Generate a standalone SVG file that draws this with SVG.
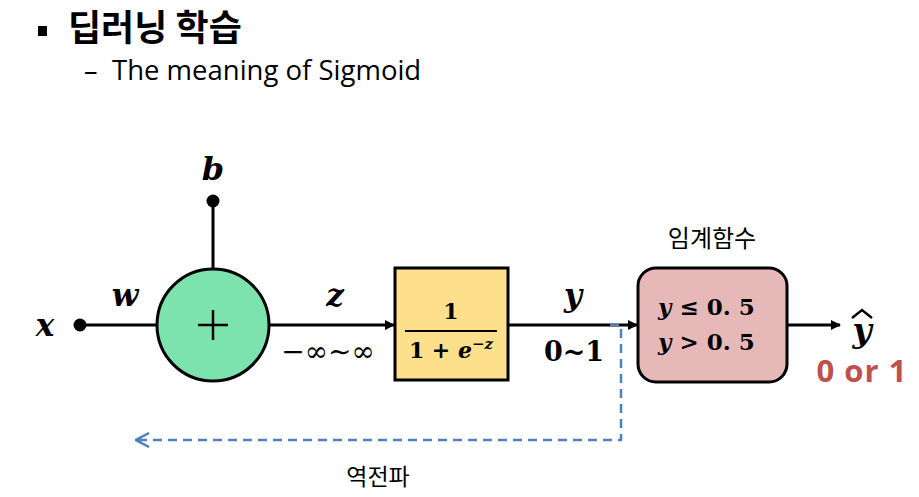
<svg xmlns="http://www.w3.org/2000/svg" width="919" height="497" viewBox="0 0 919 497">
<style>
.ko{font-family:"Noto Sans CJK KR","Noto Sans",sans-serif}
.en{font-family:"Open Sans","Noto Sans",sans-serif}
.m{font-family:"DejaVu Serif","Liberation Serif",serif;font-weight:bold;font-style:italic;fill:#000}
.mn{font-family:"DejaVu Serif","Liberation Serif",serif;font-weight:bold;font-style:normal;fill:#000}
.ln{stroke:#000;stroke-width:3;fill:none}
</style>
<defs>
<marker id="ar" markerWidth="10" markerHeight="10" refX="9" refY="5" orient="auto" markerUnits="userSpaceOnUse" viewBox="0 0 10 10">
<path d="M0,0 L10,5 L0,10 z" fill="#000"/>
</marker>
<marker id="ob" markerWidth="16" markerHeight="16" refX="15" refY="8" orient="auto" markerUnits="userSpaceOnUse" viewBox="0 0 16 16">
<path d="M2,1 L15,8 L2,15" fill="none" stroke="#4f81bd" stroke-width="2.5"/>
</marker>
</defs>
<rect width="919" height="497" fill="#fff"/>
<g id="title">
<rect x="38" y="26" width="9" height="10" fill="#000"/>
<text x="68" y="41" class="ko" font-size="36" font-weight="bold">딥러닝 학습</text>
<text x="84" y="80" class="en" font-size="27">–</text>
<text x="112" y="80" class="en" font-size="27.5">The meaning of Sigmoid</text>
</g>
<g id="connectors">
<line x1="80" y1="325" x2="158" y2="325" class="ln"/>
<line x1="213" y1="201" x2="213" y2="269" class="ln"/>
<line x1="270" y1="325" x2="394" y2="325" class="ln" marker-end="url(#ar)"/>
<line x1="508" y1="325" x2="637" y2="325" class="ln" marker-end="url(#ar)"/>
<line x1="787" y1="325" x2="840" y2="325" class="ln" marker-end="url(#ar)"/>
<path d="M610,325 L621,325 L621,440 L136,440" fill="none" stroke="#4f81bd" stroke-width="2.5" stroke-dasharray="9,6" marker-end="url(#ob)"/>
</g>
<g id="x">
<circle cx="80" cy="325" r="6.5" fill="#000"/>
<text x="45" y="336" class="m" font-size="31" text-anchor="middle">x</text>
</g>
<g id="b">
<circle cx="213" cy="201" r="6.5" fill="#000"/>
<text x="213" y="180" class="m" font-size="32" text-anchor="middle">b</text>
</g>
<g id="w"><text x="125" y="306" class="m" font-size="31" text-anchor="middle">w</text></g>
<g id="sum">
<circle cx="213" cy="325" r="56" fill="#7de3ae" stroke="#000" stroke-width="3"/>
<path d="M198,325 H228 M213,310 V340" stroke="#000" stroke-width="2.5"/>
</g>
<g id="zlabel">
<text x="335" y="306" class="m" font-size="31" text-anchor="middle">z</text>
<text x="328" y="361" class="mn" font-size="28" style="font-weight:normal" text-anchor="middle">−∞∼∞</text>
</g>
<g id="sigmoid">
<rect x="395" y="268" width="113" height="112" fill="#fedf8c" stroke="#000" stroke-width="3"/>
<text x="451" y="319" class="mn" font-size="22" text-anchor="middle">1</text>
<line x1="405" y1="331" x2="497" y2="331" stroke="#000" stroke-width="2"/>
<text x="451" y="358" class="mn" font-size="22" text-anchor="middle">1 + <tspan class="m">e</tspan><tspan font-size="15" dy="-9">−</tspan><tspan class="m" font-size="15">z</tspan></text>
</g>
<g id="ylabel">
<text x="573" y="306" class="m" font-size="31" text-anchor="middle">y</text>
<text x="574" y="361" class="mn" font-size="27" text-anchor="middle">0~1</text>
</g>
<g id="threshold">
<text x="712" y="247" class="ko" font-size="24" text-anchor="middle">임계함수</text>
<rect x="638" y="268" width="149" height="114" rx="18" fill="#e6b9b8" stroke="#000" stroke-width="3"/>
<text x="658" y="315" class="m" font-size="23">y <tspan class="mn">≤ 0. 5</tspan></text>
<text x="658" y="350" class="m" font-size="23">y <tspan class="mn">&gt; 0. 5</tspan></text>
</g>
<g id="yhat">
<text x="862" y="342" class="m" font-size="33" text-anchor="middle">y</text>
<path d="M852,318 L862,310 L872,318" fill="none" stroke="#000" stroke-width="2.4"/>
<text x="862" y="382" class="en" font-size="31" font-weight="bold" fill="#c0504d" text-anchor="middle" letter-spacing="1">0 or 1</text>
</g>
<g id="backprop">
<text x="378" y="485" class="ko" font-size="23" text-anchor="middle">역전파</text>
</g>
</svg>
